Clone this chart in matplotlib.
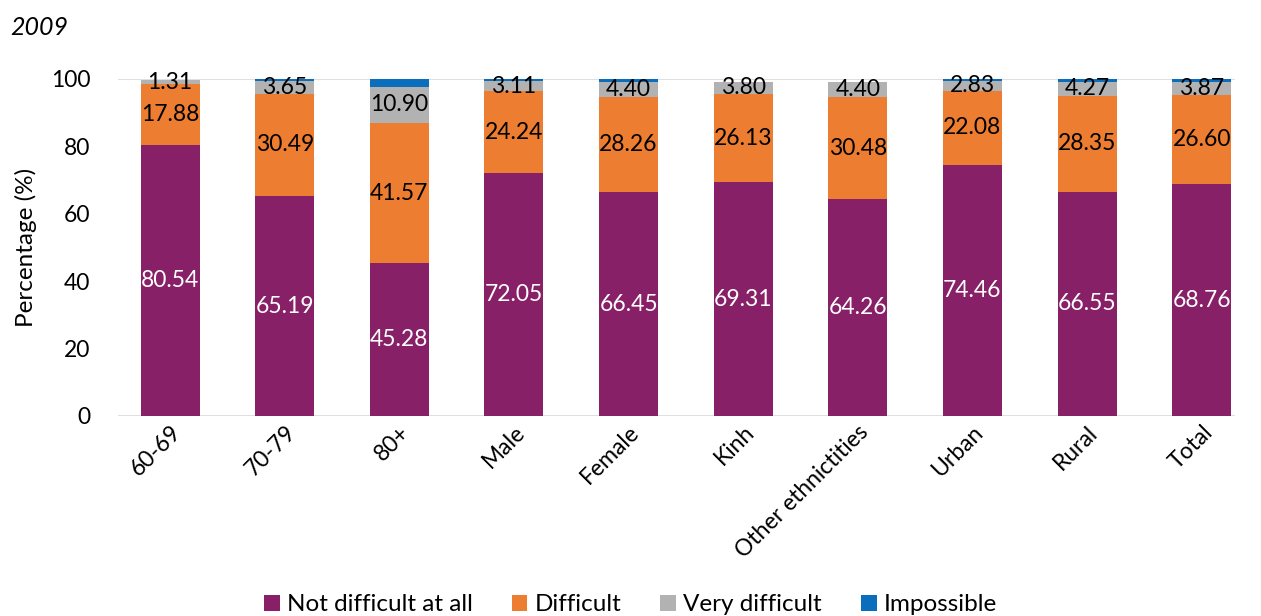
import matplotlib

matplotlib.use("Agg")
import matplotlib.pyplot as plt
import numpy as np

plt.rcParams["font.family"] = ["Lato", "DejaVu Sans"]

categories = ["60-69", "70-79", "80+", "Male", "Female", "Kinh",
              "Other ethnictities", "Urban", "Rural", "Total"]
not_difficult = [80.54, 65.19, 45.28, 72.05, 66.45, 69.31, 64.26, 74.46, 66.55, 68.76]
difficult = [17.88, 30.49, 41.57, 24.24, 28.26, 26.13, 30.48, 22.08, 28.35, 26.60]
very_difficult = [1.31, 3.65, 10.90, 3.11, 4.40, 3.80, 4.40, 2.83, 4.27, 3.87]
impossible = [0.0, 0.67, 2.25, 0.60, 0.89, 0.0, 0.0, 0.63, 0.83, 0.77]
yticks = [0, 20, 40, 60, 80, 100]

PURPLE = "#872066"
ORANGE = "#ED7D31"
GREY = "#B2B2B2"
BLUE = "#0A6EBD"

fig = plt.figure(figsize=(12.61, 6.16), dpi=100, facecolor="white")
ax = fig.add_axes([118 / 1261, 0.3247, 1117 / 1261, 0.5471])

x = np.arange(len(categories))
w = 0.515
series = [
    (not_difficult, PURPLE, "Not difficult at all", "white"),
    (difficult, ORANGE, "Difficult", "black"),
    (very_difficult, GREY, "Very difficult", "black"),
    (impossible, BLUE, "Impossible", None),
]
bottom = np.zeros(len(categories))
for vals, col, name, tcol in series:
    vals = np.array(vals)
    ax.bar(x, vals, w, bottom=bottom, color=col, label=name, zorder=2)
    if tcol is not None:
        for xi, b, v in zip(x, bottom, vals):
            ax.text(xi, b + v / 2, f"{v:.2f}", ha="center", va="center",
                    color=tcol, fontsize=16.5, zorder=3)
    bottom += vals

ax.set_xlim(-0.454, 9.29)
ax.set_ylim(0, 100)
ax.set_yticks(yticks)
ax.tick_params(axis="y", length=0, labelsize=16.5, pad=20)
ax.tick_params(axis="x", length=0, labelsize=16.5, pad=4)
ax.set_xticks(x)
ax.set_xticklabels(categories, rotation=45, ha="right", rotation_mode="anchor")
for s in ax.spines.values():
    s.set_visible(False)
ax.axhline(100, color="#D9D9D9", lw=1.2, zorder=1)
ax.axhline(0, color="#D9D9D9", lw=1.2, zorder=1)
ax.set_ylabel("Percentage (%)", fontsize=17.5, labelpad=10)

fig.text(0.008, 0.955, "2009", fontsize=18, style="italic", ha="left", va="center")

fig.legend(loc="center", bbox_to_anchor=(0.5, 0.018), ncol=4, frameon=False,
           fontsize=17.5, handlelength=0.65, handleheight=0.65, handletextpad=0.3,
           columnspacing=1.6)

fig.savefig("out.png", dpi=100)
